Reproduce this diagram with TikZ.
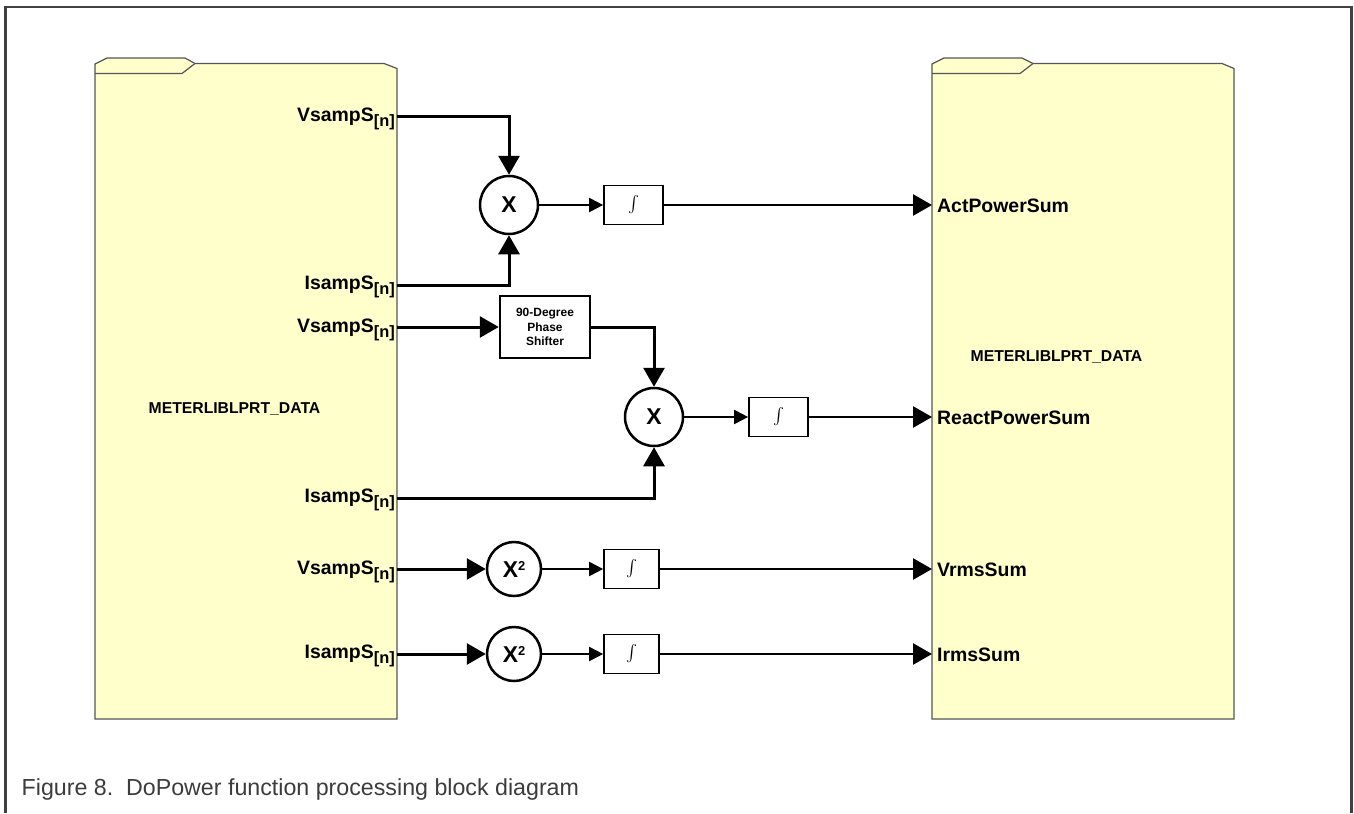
\documentclass[tikz,border=0pt]{standalone}
\usepackage{fontspec}
\setmainfont{Liberation Sans}
\usetikzlibrary{arrows.meta,calc}
\definecolor{folderfill}{HTML}{FFFFCC}
\definecolor{folderline}{HTML}{555555}
\definecolor{framecol}{HTML}{404040}
\definecolor{captioncol}{HTML}{3C3C3C}
\newcommand{\sampl}[1]{#1\raisebox{-5bp}{\fontsize{16.5}{17}\selectfont[n]}}
\newcommand{\intsym}{\scalebox{1.65}{$\int$}}
\begin{document}
\begin{tikzpicture}[x=1bp,y=-1bp,
  big/.style={-{Triangle[length=19bp,width=21bp]}},
  small/.style={-{Triangle[length=14bp,width=14bp]}},
  feed/.style={line width=3bp},
  mid/.style={line width=2bp},
  outl/.style={line width=2.5bp},
  folder/.style={fill=folderfill,draw=folderline,line width=1.2bp},
  mult/.style={circle,draw,line width=2.5bp,minimum size=58bp,inner sep=0pt,font=\fontsize{23}{23}\selectfont\bfseries},
  sqr/.style={circle,draw,line width=2.5bp,minimum size=54bp,inner sep=0pt,font=\fontsize{23}{23}\selectfont\bfseries},
  intbox/.style={draw,line width=1.7bp,minimum width=59bp,minimum height=39bp,inner sep=0pt},
  intboxs/.style={intbox,minimum width=55bp},
  phasebox/.style={draw,line width=2.5bp,minimum width=90bp,minimum height=62bp,inner sep=0pt,align=center,font=\fontsize{12}{14.7}\selectfont\bfseries},
  inlab/.style={anchor=base east,inner sep=0pt,font=\fontsize{19.5}{20}\selectfont\bfseries},
  outlab/.style={anchor=base west,inner sep=0pt,font=\fontsize{19.5}{20}\selectfont\bfseries},
  datalab/.style={inner sep=0pt,font=\fontsize{15.8}{16}\selectfont\bfseries}]
\useasboundingbox (0,0) rectangle (1354,813);
% outer frame
\draw[framecol,line width=2.5bp] (5.5,813) -- (5.5,7) -- (1351.5,7) -- (1351.5,813);
% left folder
\filldraw[folder] (95,719) -- (95,64) -- (107,58) -- (185,58) -- (195,63.5) -- (384,63.5) -- (397,68.5) -- (397,719) -- cycle;
\draw[folderline,line width=1.2bp] (95,73.5) -- (182,73.5) -- (195,63.5);
% right folder
\filldraw[folder] (932,719) -- (932,64) -- (944,58) -- (1022,58) -- (1033,63.5) -- (1222,63.5) -- (1234,68.5) -- (1234,719) -- cycle;
\draw[folderline,line width=1.2bp] (932,73.5) -- (1020,73.5) -- (1033,63.5);
% folder labels
\node[datalab] (ldata) at (234.5,409) {METERLIBLPRT\_DATA};
\node[datalab] (rdata) at (1056.5,357) {METERLIBLPRT\_DATA};
% port coordinates
\coordinate (lin1) at (397,116);
\coordinate (lin2) at (397,285);
\coordinate (lin3) at (397,327);
\coordinate (lin4) at (397,498);
\coordinate (lin5) at (397,569);
\coordinate (lin6) at (397,654);
\coordinate (rout1) at (932,205);
\coordinate (rout2) at (932,417);
\coordinate (rout3) at (932,569);
\coordinate (rout4) at (932,654);
% input labels
\node[inlab] (v1) at (395,121) {\sampl{VsampS}};
\node[inlab] (i1l) at (395,289) {\sampl{IsampS}};
\node[inlab] (v2) at (395,332) {\sampl{VsampS}};
\node[inlab] (i2l) at (395,502) {\sampl{IsampS}};
\node[inlab] (v3) at (395,574) {\sampl{VsampS}};
\node[inlab] (i3l) at (395,658) {\sampl{IsampS}};
% output labels
\node[outlab] (o1) at (937,212) {ActPowerSum};
\node[outlab] (o2) at (937,424) {ReactPowerSum};
\node[outlab] (o3) at (937,576) {VrmsSum};
\node[outlab] (o4) at (937,661) {IrmsSum};
% blocks
\node[mult] (m1) at (509,205) {X};
\node[intbox] (n1) at (633.5,205) {\intsym};
\node[phasebox] (ph) at (545,327) {90-Degree\\Phase\\Shifter};
\node[mult] (m2) at (654,417) {X};
\node[intbox] (n2) at (778.5,417) {\intsym};
\node[sqr] (s1) at (514,569) {X\raisebox{7bp}{\fontsize{13}{13}\selectfont 2}};
\node[intboxs] (n3) at (631.5,569) {\intsym};
\node[sqr] (s2) at (514,654) {X\raisebox{7bp}{\fontsize{13}{13}\selectfont 2}};
\node[intboxs] (n4) at (631.5,654) {\intsym};
% connectors
\draw[feed,big] (lin1) -| (m1.north);
\draw[feed,big] (lin2) -| (m1.south);
\draw[mid,small] (m1.east) -- (n1.west);
\draw[outl,big] (n1.east) -- (rout1);
\draw[feed,big] (lin3) -- (ph.west);
\draw[feed,big] (ph.east) -| (m2.north);
\draw[feed,big] (lin4) -| (m2.south);
\draw[mid,small] (m2.east) -- (n2.west);
\draw[outl,big] (n2.east) -- (rout2);
\draw[feed,big] (lin5) -- (s1.west);
\draw[mid,small] (s1.east) -- (n3.west);
\draw[outl,big] (n3.east) -- (rout3);
\draw[feed,big] (lin6) -- (s2.west);
\draw[mid,small] (s2.east) -- (n4.west);
\draw[outl,big] (n4.east) -- (rout4);
% caption
\node[anchor=base west,inner sep=0pt,text=captioncol,font=\fontsize{23.3}{24}\selectfont] (cap) at (21.5,795) {Figure 8.\ \ DoPower function processing block diagram};
\end{tikzpicture}
\end{document}
